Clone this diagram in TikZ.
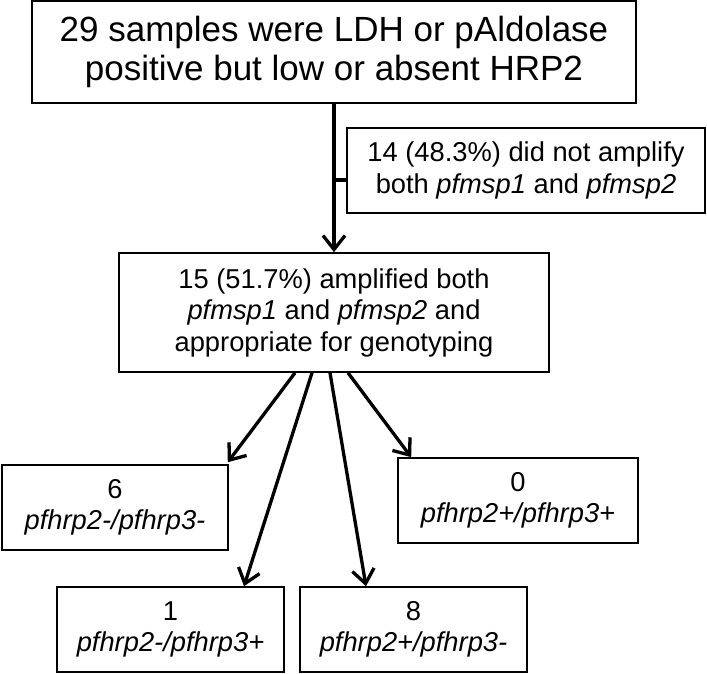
\documentclass[tikz,border=0pt]{standalone}
\usepackage{fontspec}
\setmainfont{Liberation Sans}
\usetikzlibrary{arrows.meta,calc}
\begin{document}
\begin{tikzpicture}[x=1pt,y=-1pt,
  box/.style={draw,line width=1.6pt,inner sep=0pt,align=center,anchor=center},
  big/.style={font=\fontsize{35}{39}\selectfont},
  med/.style={font=\fontsize{27.3}{31.5}\selectfont},
  conn/.style={line width=3.3pt,-{Straight Barb[length=14pt,width=22pt]}},
  stub/.style={line width=3.3pt}]
\useasboundingbox (0,0) rectangle (707,674);
\node[box,big,minimum width=604pt,minimum height=102pt] (top) at (334,52)
  {29 samples were LDH or pAldolase\\positive but low or absent HRP2};
\node[box,med,minimum width=358pt,minimum height=85pt] (side) at (526,170.5)
  {14 (48.3\%) did not amplify\\both \textit{pfmsp1} and \textit{pfmsp2}};
\node[box,med,minimum width=430pt,minimum height=119pt] (mid) at (334,312.5)
  {15 (51.7\%) amplified both\\\textit{pfmsp1} and \textit{pfmsp2} and\\appropriate for genotyping};
\node[box,med,minimum width=226pt,minimum height=85pt] (b6) at (115,507.5)
  {6\\\textit{pfhrp2-/pfhrp3-}};
\node[box,med,minimum width=240pt,minimum height=85pt] (b0) at (518,500.5)
  {0\\\textit{pfhrp2+/pfhrp3+}};
\node[box,med,minimum width=227pt,minimum height=85pt] (b1) at (170.5,629.5)
  {1\\\textit{pfhrp2-/pfhrp3+}};
\node[box,med,minimum width=227pt,minimum height=85pt] (b8) at (413.5,629.5)
  {8\\\textit{pfhrp2+/pfhrp3-}};
% main arrow and side branch
\draw[conn] (top.south) -- (mid.north);
\coordinate (br) at (334,180);
\draw[stub] (br) -- (br -| side.west);
% fan
\coordinate (f1) at ($(mid.south)+(-39,0)$);
\coordinate (f2) at ($(mid.south)+(-22,0)$);
\coordinate (f3) at ($(mid.south)+(-4,0)$);
\coordinate (f4) at ($(mid.south)+(14,0)$);
\coordinate (t6) at ($(b6.north east)+(-1,-2)$);
\coordinate (t1) at ($(b1.north)+(73.5,0)$);
\coordinate (t8) at ($(b8.north)+(-47.5,0)$);
\coordinate (t0) at ($(b0.north west)+(14,0)$);
\draw[conn] (f1) -- (t6);
\draw[conn] (f2) -- (t1);
\draw[conn] (f3) -- (t8);
\draw[conn] (f4) -- (t0);
\end{tikzpicture}
\end{document}
